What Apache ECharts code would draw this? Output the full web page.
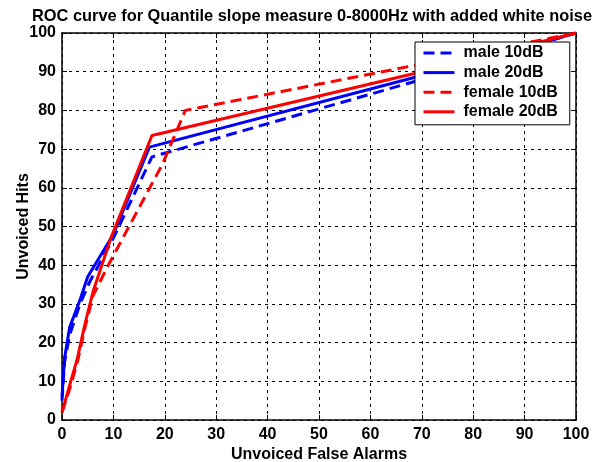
<!DOCTYPE html>
<html>
<head>
<meta charset="utf-8">
<script src="https://cdn.jsdelivr.net/npm/echarts@6/dist/echarts.min.js"></script>
<style>html,body{margin:0;padding:0;background:#fff;}#c{width:602px;height:462px;}</style>
</head>
<body>
<div id="c"></div>
<script>
var titleText = 'ROC curve for Quantile slope measure 0-8000Hz with added white noise';
var xName = 'Unvoiced False Alarms';
var yName = 'Unvoiced Hits';
var seriesNames = ['male 10dB', 'male 20dB', 'female 10dB', 'female 20dB'];
var male10 = [[0,5],[0.5,15],[1.5,22],[3.5,30],[5.5,36],[10,47],[17.5,68],[70,88],[100,100]];
var male20 = [[0,6],[0.5,16],[1.5,24],[3.5,31],[5,37],[10,48],[17,70.5],[70,89],[100,100]];
var female10 = [[0,2],[1.5,8],[3,15],[4.5,24],[6,32],[9,40],[19.5,66],[24,80],[70,92],[100,100]];
var female20 = [[0,2],[1.5,9],[3,16],[4.5,25],[6,33],[9.5,47],[17.5,73.5],[70,90],[100,100]];

var font = 'Liberation Sans, Arial, sans-serif';
var chart = echarts.init(document.getElementById('c'), null, {renderer: 'canvas'});
function mk(name, data, color, dashed) {
  return {
    name: name, type: 'line', data: data, showSymbol: false, symbol: 'none',
    lineStyle: {color: color, width: 3, type: dashed ? [11, 6] : 'solid'},
    itemStyle: {color: color}, animation: false, z: 3
  };
}
var axisCommon = {
  type: 'value', min: 0, max: 100, interval: 10,
  axisLine: {show: true, onZero: false, lineStyle: {color: '#000', width: 1.5}},
  axisTick: {show: true, inside: true, length: 5, lineStyle: {color: '#000', width: 1}}
};
var txt = {fontFamily: font, fontWeight: 'bold', fontSize: 16, color: '#000'};
chart.setOption({
  backgroundColor: '#fff',
  animation: false,
  title: {text: titleText, left: 307, textAlign: 'center', top: 3,
    textStyle: Object.assign({}, txt, {fontSize: 16.4})},
  grid: {left: 62, right: 26, top: 33, bottom: 42, containLabel: false, outerBoundsMode: 'none'},
  legend: {
    left: 415, top: 42, orient: 'vertical', data: seriesNames,
    backgroundColor: '#fff', borderColor: '#000', borderWidth: 1,
    padding: [3, 12, 5, 7], itemGap: 3.6, itemWidth: 31, itemHeight: 14,
    itemStyle: {opacity: 0},
    lineStyle: {width: 3},
    textStyle: Object.assign({padding: [0, 0, 0, 4]}, txt)
  },
  xAxis: [
    Object.assign({}, axisCommon, {
      position: 'bottom', name: xName, nameLocation: 'middle', nameGap: 27, nameMoveOverlap: false,
      nameTextStyle: Object.assign({verticalAlign: 'top'}, txt),
      axisLabel: Object.assign({margin: 7}, txt),
      splitLine: {show: true, lineStyle: {color: '#000', width: 1, type: [3, 4]}}
    }),
    Object.assign({}, axisCommon, {position: 'top', axisLabel: {show: false}, splitLine: {show: false}})
  ],
  yAxis: [
    Object.assign({}, axisCommon, {
      position: 'left', name: yName, nameLocation: 'middle', nameGap: 30, nameMoveOverlap: false,
      nameTextStyle: txt,
      axisLabel: Object.assign({margin: 6}, txt),
      splitLine: {show: true, lineStyle: {color: '#000', width: 1, type: [3, 4]}}
    }),
    Object.assign({}, axisCommon, {position: 'right', axisLabel: {show: false}, splitLine: {show: false}})
  ],
  series: [
    mk(seriesNames[0], male10, '#0000ff', true),
    mk(seriesNames[1], male20, '#0000ff', false),
    mk(seriesNames[2], female10, '#ff0000', true),
    mk(seriesNames[3], female20, '#ff0000', false)
  ]
});
</script>
</body>
</html>
